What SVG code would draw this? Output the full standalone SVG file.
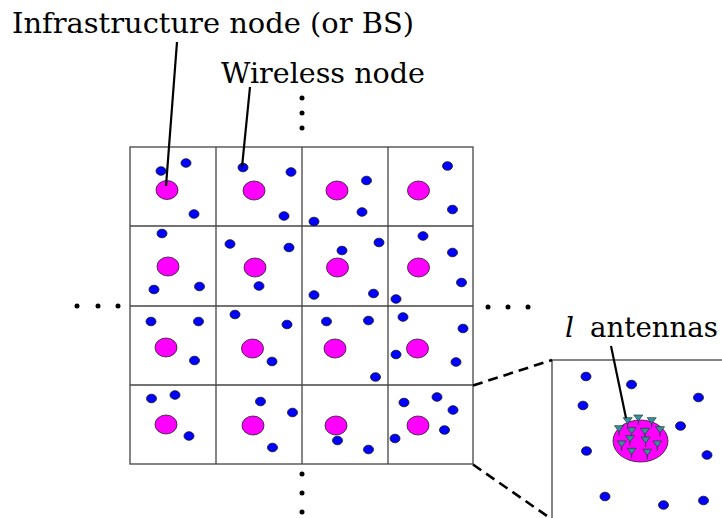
<svg xmlns="http://www.w3.org/2000/svg" width="722" height="518" viewBox="0 0 722 518">
<style>
.grid{fill:none;stroke:#444;stroke-width:1.3}
.bs{fill:#ff00ff;stroke:#222;stroke-width:0.8}
.wn{fill:#0000ff;stroke:#111;stroke-width:0.8}
.lbl{font-family:"DejaVu Serif","Liberation Serif",Times,serif;font-size:28px;fill:#000}
.lead{stroke:#000;stroke-width:2.2;fill:none}
.dash{stroke:#000;stroke-width:2.6;stroke-dasharray:10 6;fill:none}
.dot{fill:#000}
.ant{fill:#3a8f99;stroke:#1a3a40;stroke-width:0.7}
.stem{stroke:#1a3a40;stroke-width:1}
</style>
<defs>
<g id="antenna"><line class="stem" x1="0" y1="0" x2="0" y2="7"/><polygon class="ant" points="-4.5,-3 4.5,-3 0,3"/></g>
</defs>
<rect width="722" height="518" fill="#fff"/>

<g id="grid">
<rect class="grid" x="130" y="147" width="343" height="317"/>
<line class="grid" x1="216" y1="147" x2="216" y2="464"/>
<line class="grid" x1="302" y1="147" x2="302" y2="464"/>
<line class="grid" x1="388" y1="147" x2="388" y2="464"/>
<line class="grid" x1="130" y1="226" x2="473" y2="226"/>
<line class="grid" x1="130" y1="306" x2="473" y2="306"/>
<line class="grid" x1="130" y1="385" x2="473" y2="385"/>
</g>

<g id="cell-0-0">
<ellipse class="bs" cx="167" cy="190" rx="11" ry="9.5"/>
<ellipse class="wn" cx="161" cy="171" rx="5" ry="4.3"/>
<ellipse class="wn" cx="186" cy="163" rx="5" ry="4.3"/>
<ellipse class="wn" cx="194" cy="214" rx="5" ry="4.3"/>
</g>
<g id="cell-0-1">
<ellipse class="bs" cx="254" cy="190.5" rx="11" ry="9.5"/>
<ellipse class="wn" cx="243" cy="167.5" rx="5" ry="4.3"/>
<ellipse class="wn" cx="291" cy="172" rx="5" ry="4.3"/>
<ellipse class="wn" cx="284" cy="216" rx="5" ry="4.3"/>
</g>
<g id="cell-0-2">
<ellipse class="bs" cx="337" cy="190.5" rx="11" ry="9.5"/>
<ellipse class="wn" cx="366.5" cy="180.5" rx="5" ry="4.3"/>
<ellipse class="wn" cx="362" cy="212" rx="5" ry="4.3"/>
<ellipse class="wn" cx="314" cy="221.5" rx="5" ry="4.3"/>
</g>
<g id="cell-0-3">
<ellipse class="bs" cx="418.5" cy="190.5" rx="11" ry="9.5"/>
<ellipse class="wn" cx="447.5" cy="166" rx="5" ry="4.3"/>
<ellipse class="wn" cx="452.5" cy="209.5" rx="5" ry="4.3"/>
</g>

<g id="cell-1-0">
<ellipse class="bs" cx="168" cy="266.5" rx="11" ry="9.5"/>
<ellipse class="wn" cx="162" cy="233.5" rx="5" ry="4.3"/>
<ellipse class="wn" cx="154" cy="289.5" rx="5" ry="4.3"/>
<ellipse class="wn" cx="199.5" cy="286.5" rx="5" ry="4.3"/>
</g>
<g id="cell-1-1">
<ellipse class="bs" cx="255" cy="267.5" rx="11" ry="9.5"/>
<ellipse class="wn" cx="230" cy="244" rx="5" ry="4.3"/>
<ellipse class="wn" cx="289" cy="247.5" rx="5" ry="4.3"/>
<ellipse class="wn" cx="259" cy="286" rx="5" ry="4.3"/>
</g>
<g id="cell-1-2">
<ellipse class="bs" cx="337.5" cy="267.5" rx="11" ry="9.5"/>
<ellipse class="wn" cx="342" cy="250.5" rx="5" ry="4.3"/>
<ellipse class="wn" cx="379" cy="242.5" rx="5" ry="4.3"/>
<ellipse class="wn" cx="314" cy="295" rx="5" ry="4.3"/>
<ellipse class="wn" cx="373.5" cy="293.5" rx="5" ry="4.3"/>
</g>
<g id="cell-1-3">
<ellipse class="bs" cx="418.5" cy="267.5" rx="11" ry="9.5"/>
<ellipse class="wn" cx="423" cy="236" rx="5" ry="4.3"/>
<ellipse class="wn" cx="452.5" cy="252.5" rx="5" ry="4.3"/>
<ellipse class="wn" cx="461.5" cy="282.5" rx="5" ry="4.3"/>
<ellipse class="wn" cx="396" cy="299" rx="5" ry="4.3"/>
</g>

<g id="cell-2-0">
<ellipse class="bs" cx="166" cy="347.5" rx="11" ry="9.5"/>
<ellipse class="wn" cx="151" cy="321.5" rx="5" ry="4.3"/>
<ellipse class="wn" cx="198.5" cy="321.5" rx="5" ry="4.3"/>
<ellipse class="wn" cx="194.5" cy="360.5" rx="5" ry="4.3"/>
</g>
<g id="cell-2-1">
<ellipse class="bs" cx="252.5" cy="348.5" rx="11" ry="9.5"/>
<ellipse class="wn" cx="235" cy="314.5" rx="5" ry="4.3"/>
<ellipse class="wn" cx="287" cy="324.5" rx="5" ry="4.3"/>
<ellipse class="wn" cx="272" cy="361.5" rx="5" ry="4.3"/>
</g>
<g id="cell-2-2">
<ellipse class="bs" cx="335" cy="348.5" rx="11" ry="9.5"/>
<ellipse class="wn" cx="326.5" cy="321.5" rx="5" ry="4.3"/>
<ellipse class="wn" cx="368.5" cy="320.5" rx="5" ry="4.3"/>
<ellipse class="wn" cx="375.5" cy="377" rx="5" ry="4.3"/>
</g>
<g id="cell-2-3">
<ellipse class="bs" cx="417.5" cy="348.5" rx="11" ry="9.5"/>
<ellipse class="wn" cx="403" cy="317" rx="5" ry="4.3"/>
<ellipse class="wn" cx="463" cy="328.5" rx="5" ry="4.3"/>
<ellipse class="wn" cx="396" cy="354.5" rx="5" ry="4.3"/>
<ellipse class="wn" cx="456" cy="362" rx="5" ry="4.3"/>
</g>

<g id="cell-3-0">
<ellipse class="bs" cx="166" cy="424.5" rx="11" ry="9.5"/>
<ellipse class="wn" cx="151.5" cy="398.5" rx="5" ry="4.3"/>
<ellipse class="wn" cx="175" cy="395" rx="5" ry="4.3"/>
<ellipse class="wn" cx="189" cy="436" rx="5" ry="4.3"/>
</g>
<g id="cell-3-1">
<ellipse class="bs" cx="253" cy="425.5" rx="11" ry="9.5"/>
<ellipse class="wn" cx="260.5" cy="401.5" rx="5" ry="4.3"/>
<ellipse class="wn" cx="292.5" cy="412.5" rx="5" ry="4.3"/>
<ellipse class="wn" cx="272.5" cy="447.5" rx="5" ry="4.3"/>
</g>
<g id="cell-3-2">
<ellipse class="bs" cx="336" cy="425.5" rx="11" ry="9.5"/>
<ellipse class="wn" cx="337.5" cy="440.5" rx="5" ry="4.3"/>
<ellipse class="wn" cx="368.5" cy="449.5" rx="5" ry="4.3"/>
</g>
<g id="cell-3-3">
<ellipse class="bs" cx="418" cy="425.5" rx="11" ry="9.5"/>
<ellipse class="wn" cx="404" cy="402.5" rx="5" ry="4.3"/>
<ellipse class="wn" cx="437" cy="397" rx="5" ry="4.3"/>
<ellipse class="wn" cx="453" cy="410" rx="5" ry="4.3"/>
<ellipse class="wn" cx="444.5" cy="430" rx="5" ry="4.3"/>
<ellipse class="wn" cx="395" cy="438.5" rx="5" ry="4.3"/>
</g>

<g id="ellipsis-dots">
<circle class="dot" cx="302" cy="98" r="2.5"/>
<circle class="dot" cx="302" cy="113" r="2.5"/>
<circle class="dot" cx="302" cy="128" r="2.5"/>
<circle class="dot" cx="302" cy="474" r="2.5"/>
<circle class="dot" cx="302" cy="493" r="2.5"/>
<circle class="dot" cx="302" cy="512" r="2.5"/>
<circle class="dot" cx="77" cy="306" r="2.5"/>
<circle class="dot" cx="98" cy="306" r="2.5"/>
<circle class="dot" cx="118" cy="306" r="2.5"/>
<circle class="dot" cx="488" cy="307" r="2.5"/>
<circle class="dot" cx="508" cy="307" r="2.5"/>
<circle class="dot" cx="528" cy="307" r="2.5"/>
</g>

<g id="zoom-box">
<rect class="grid" x="552" y="360" width="180" height="170"/>
<ellipse class="bs" cx="640.5" cy="441" rx="27.5" ry="21"/>
<use href="#antenna" x="627.7" y="420.7"/>
<use href="#antenna" x="638.3" y="418"/>
<use href="#antenna" x="651.7" y="420.7"/>
<use href="#antenna" x="619" y="428.7"/>
<use href="#antenna" x="631.7" y="430.7"/>
<use href="#antenna" x="645" y="431.3"/>
<use href="#antenna" x="660" y="429.7"/>
<use href="#antenna" x="630" y="438.7"/>
<use href="#antenna" x="645.7" y="440"/>
<use href="#antenna" x="621.7" y="444"/>
<use href="#antenna" x="657.3" y="444"/>
<use href="#antenna" x="631.7" y="451.3"/>
<use href="#antenna" x="647.3" y="452.3"/>
<ellipse class="wn" cx="586" cy="376.5" rx="5" ry="4.3"/>
<ellipse class="wn" cx="631.5" cy="384.5" rx="5" ry="4.3"/>
<ellipse class="wn" cx="698.5" cy="397.5" rx="5" ry="4.3"/>
<ellipse class="wn" cx="583" cy="405.5" rx="5" ry="4.3"/>
<ellipse class="wn" cx="680.5" cy="426" rx="5" ry="4.3"/>
<ellipse class="wn" cx="586.5" cy="451" rx="5" ry="4.3"/>
<ellipse class="wn" cx="707" cy="455" rx="5" ry="4.3"/>
<ellipse class="wn" cx="605" cy="496.5" rx="5" ry="4.3"/>
<ellipse class="wn" cx="663.5" cy="505" rx="5" ry="4.3"/>
<ellipse class="wn" cx="703.5" cy="500.5" rx="5" ry="4.3"/>
</g>

<g id="connectors">
<line class="dash" x1="473" y1="385.5" x2="552" y2="360"/>
<line class="dash" x1="473" y1="464.5" x2="550" y2="518"/>
<line class="lead" x1="177" y1="42" x2="166" y2="186"/>
<line class="lead" x1="250" y1="87" x2="242" y2="167"/>
<line class="lead" x1="611" y1="346" x2="626" y2="418"/>
</g>

<g id="labels">
<text class="lbl" x="12" y="33" textLength="402" lengthAdjust="spacingAndGlyphs">Infrastructure node (or BS)</text>
<text class="lbl" x="221" y="83" textLength="204" lengthAdjust="spacingAndGlyphs">Wireless node</text>
<text class="lbl" x="565" y="337"><tspan font-style="italic">l</tspan><tspan x="590" textLength="128" lengthAdjust="spacingAndGlyphs">antennas</tspan></text>
</g>
</svg>
